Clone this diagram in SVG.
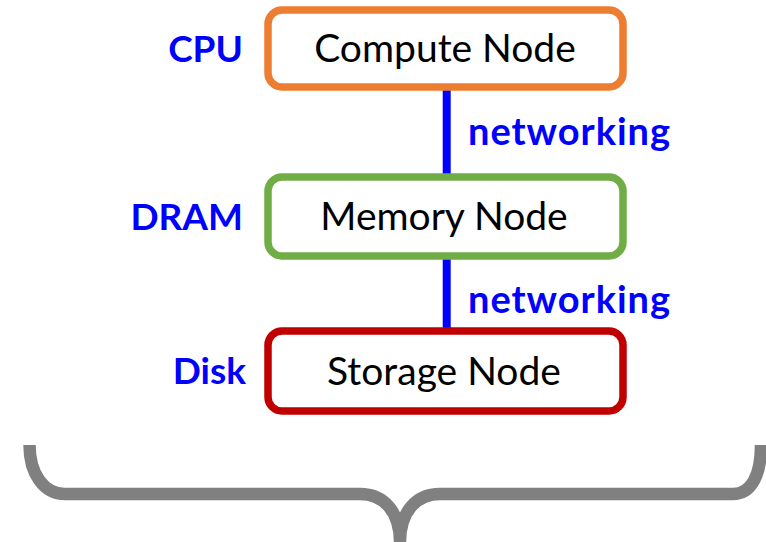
<svg xmlns="http://www.w3.org/2000/svg" width="766" height="542" viewBox="0 0 766 542">
<style>
.box{fill:#fff;stroke-width:7.5}
.nt{font-family:Lato,"Open Sans",sans-serif;font-size:39px;fill:#000;text-anchor:middle}
.lb{font-family:Lato,"Open Sans",sans-serif;font-weight:bold;font-size:37px;fill:#0000FF}
.nw{font-size:38px}
.conn{stroke:#0000FF;stroke-width:8;fill:none}
.brace{stroke:#808080;stroke-width:12.5;fill:none}
</style>
<rect width="766" height="542" fill="#fff"/>
<g id="connectors">
<line class="conn" x1="446.7" y1="88" x2="446.7" y2="177"/>
<line class="conn" x1="446.7" y1="256" x2="446.7" y2="331"/>
<text class="lb nw" x="468" y="145" textLength="202" lengthAdjust="spacing">networking</text>
<text class="lb nw" x="468" y="313" textLength="202" lengthAdjust="spacing">networking</text>
</g>
<g id="compute">
<rect class="box" x="268" y="10" width="355" height="77" rx="14" stroke="#ED7D31"/>
<text class="nt" x="445" y="62">Compute Node</text>
<text class="lb" x="243" y="62" text-anchor="end">CPU</text>
</g>
<g id="memory">
<rect class="box" x="268" y="177" width="355" height="79" rx="14" stroke="#70AD47"/>
<text class="nt" x="444" y="230">Memory Node</text>
<text class="lb" x="243" y="230" text-anchor="end">DRAM</text>
</g>
<g id="storage">
<rect class="box" x="268" y="331" width="355" height="80" rx="14" stroke="#C00000"/>
<text class="nt" x="444" y="385">Storage Node</text>
<text class="lb" x="246" y="384" text-anchor="end">Disk</text>
</g>
<g id="brace">
<path class="brace" d="M29.5,445 C29.5,474 44,494 65,494 L360,494 C384,494 400,512 400,542 M400,542 C400,512 416,494 440,494 L733,494 C752,494 761,474 761,445"/>
</g>
</svg>
